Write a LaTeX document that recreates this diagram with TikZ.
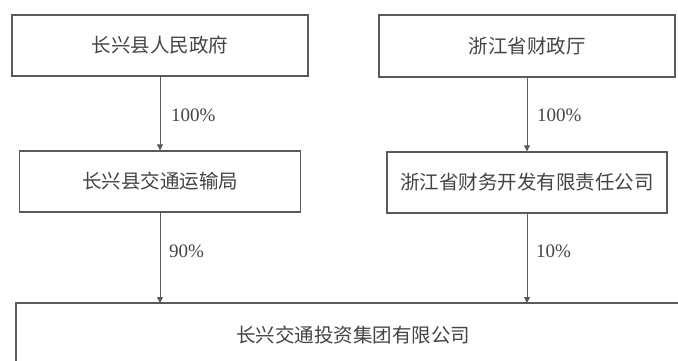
\documentclass[tikz,border=0pt]{standalone}
\usepackage{fontspec}
\setmainfont{Liberation Serif}
\newfontfamily\cjk{Noto Sans CJK SC}
\usepackage{xcolor}
\usetikzlibrary{arrows.meta, positioning}

\definecolor{linegray}{HTML}{5A5A5A}
\definecolor{textgray}{HTML}{444444}

\begin{document}
\begin{tikzpicture}[x=1pt, y=-1pt,
        owner/.style = {draw = linegray, line width = 1.3pt, inner sep = 0pt,
                        font = \cjk\fontsize{19.5}{22}\selectfont, text = textgray},
        share/.style = {-{Triangle[length=6pt, width=6pt]}, draw = linegray, line width = 0.9pt},
        pct/.style   = {anchor = west, inner sep = 0pt, font = \fontsize{19}{22}\selectfont, text = textgray}]
                \clip (0, 0) rectangle (678, 360);
                \fill[white] (0, 0) rectangle (678, 360);

                \node (Gov) [owner, minimum width = 296pt, minimum height = 61pt] at (160, 45.5) { 长兴县人民政府 };
                \node (Fin) [owner, minimum width = 296pt, minimum height = 62pt] at (527, 46) { 浙江省财政厅 };
                \node (Bur) [owner, minimum width = 281pt, minimum height = 61pt] at (160, 181.5) { 长兴县交通运输局 };
                \node (Dev) [owner, minimum width = 280pt, minimum height = 61pt] at (527, 182.5) { 浙江省财务开发有限责任公司 };
                \node (Grp) [owner, minimum width = 674pt, minimum height = 64pt] at (353, 335) { 长兴交通投资集团有限公司 };

                \coordinate (GrpL) at (160, 303);
                \coordinate (GrpR) at (527, 303);

                \draw[share] (Gov) -- (Bur);
                \draw[share] (Fin) -- (Dev);
                \draw[share] (Bur) -- (GrpL);
                \draw[share] (Dev) -- (GrpR);

                \node (P1) [pct] at (171, 115) { 100\% };
                \node (P2) [pct] at (537, 115) { 100\% };
                \node (P3) [pct] at (169, 251) { 90\% };
                \node (P4) [pct] at (536, 251) { 10\% };
            \end{tikzpicture}
\end{document}
